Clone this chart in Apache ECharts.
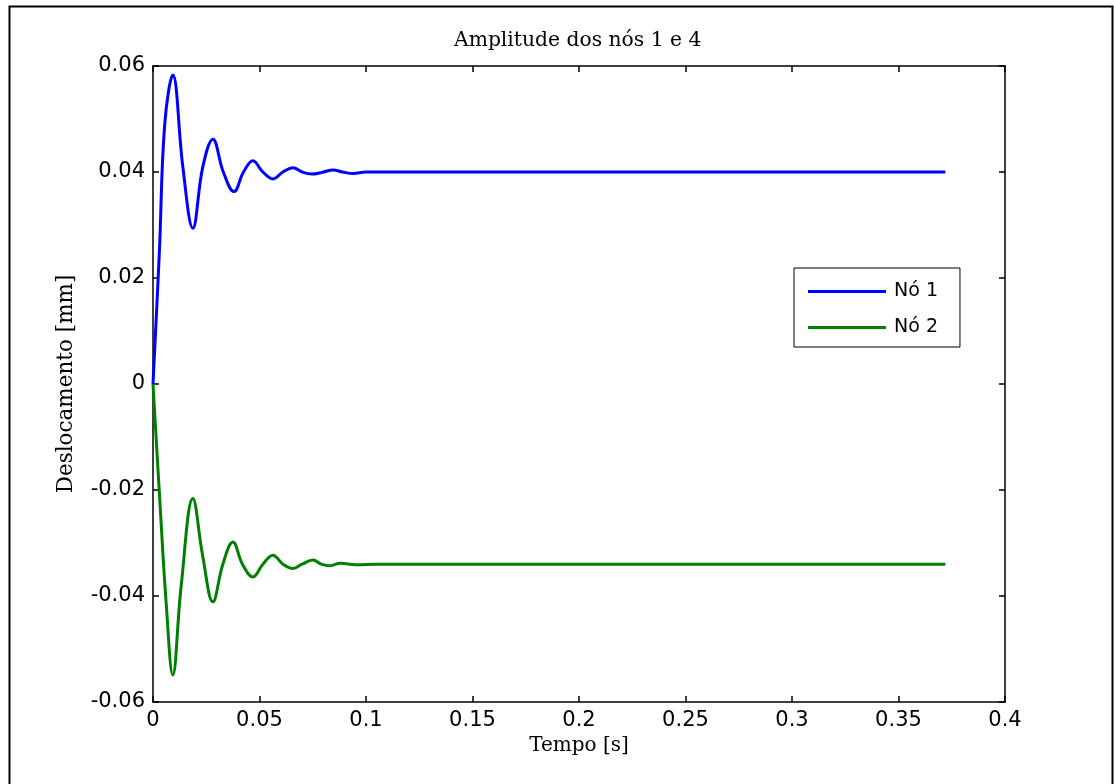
<!DOCTYPE html>
<html>
<head>
<meta charset="utf-8">
<script src="https://cdn.jsdelivr.net/npm/echarts@6/dist/echarts.min.js"></script>
<style>html,body{margin:0;padding:0;background:#fff;}#c{width:1114px;height:784px;}</style>
</head>
<body>
<div id="c"></div>
<script>
// Data
const seriesNames = ['Nó 1', 'Nó 2'];
const timeNo1 = [0, 0.003, 0.0055, 0.0093, 0.014, 0.0187, 0.0234, 0.0281, 0.033, 0.038, 0.0425, 0.0469, 0.0516, 0.0563, 0.061, 0.0657, 0.070, 0.0745, 0.080, 0.0845, 0.089, 0.094, 0.100, 0.372];
const valNo1  = [0, 0.025, 0.049, 0.0583, 0.041, 0.0294, 0.041, 0.0462, 0.040, 0.0363, 0.040, 0.0421, 0.040, 0.0387, 0.040, 0.0408, 0.040, 0.0396, 0.040, 0.0404, 0.040, 0.0397, 0.040, 0.040];
const timeNo2 = [0, 0.003, 0.0062, 0.0093, 0.0132, 0.0187, 0.0234, 0.0281, 0.0328, 0.0375, 0.042, 0.0469, 0.0516, 0.0563, 0.061, 0.0657, 0.070, 0.0751, 0.079, 0.083, 0.088, 0.095, 0.105, 0.372];
const valNo2  = [0, -0.0206, -0.0414, -0.0549, -0.0382, -0.0216, -0.0326, -0.0411, -0.034, -0.0298, -0.034, -0.0364, -0.034, -0.0323, -0.034, -0.0348, -0.034, -0.0332, -0.034, -0.0343, -0.0338, -0.0341, -0.034, -0.034];
const titleText = 'Amplitude dos nós 1 e 4';
const xName = 'Tempo [s]';
const yName = 'Deslocamento [mm]';

const pairs = (t, v) => t.map((x, i) => [x, v[i]]);
const fmt = v => String(+(+v).toFixed(3));

const chart = echarts.init(document.getElementById('c'), null, {renderer: 'canvas'});
const tickFont = {fontFamily: 'DejaVu Sans', fontSize: 21, color: '#000'};
const serifT = {fontFamily: 'DejaVu Serif', fontSize: 20.3, color: '#000', fontWeight: 'normal'};
const serifX = {fontFamily: 'DejaVu Serif', fontSize: 20, color: '#000', fontWeight: 'normal'};
const serifY = {fontFamily: 'DejaVu Serif', fontSize: 21.5, color: '#000', fontWeight: 'normal'};

const baseAxisLine = {show: true, onZero: false, lineStyle: {color: '#000', width: 1.5}};
const baseTick = {show: true, inside: true, length: 6, lineStyle: {color: '#000', width: 1.5}};

chart.setOption({
  animation: false,
  backgroundColor: '#fff',
  title: {text: titleText, left: 449, top: 26, textStyle: serifT},
  grid: {left: 153, right: 109, top: 66, bottom: 82, containLabel: false},
  legend: {
    data: seriesNames,
    orient: 'vertical',
    left: 794, top: 268,
    padding: [14, 22, 10, 14],
    itemWidth: 78, itemHeight: 3,
    itemGap: 17,
    icon: 'rect',
    borderColor: '#000', borderWidth: 1,
    backgroundColor: '#fff',
    textStyle: {fontFamily: 'DejaVu Sans', fontSize: 19, color: '#000', padding: [0, 0, 0, 3]}
  },
  xAxis: [{
    type: 'value', min: 0, max: 0.4, interval: 0.05,
    name: xName, nameLocation: 'middle', nameGap: 33, nameTextStyle: serifX,
    axisLine: baseAxisLine, axisTick: baseTick,
    axisLabel: Object.assign({margin: 8, formatter: fmt}, tickFont),
    splitLine: {show: false}
  }, {
    type: 'value', min: 0, max: 0.4, interval: 0.05, position: 'top',
    axisLine: baseAxisLine, axisTick: baseTick, axisLabel: {show: false}, splitLine: {show: false}
  }],
  yAxis: [{
    type: 'value', min: -0.06, max: 0.06, interval: 0.02,
    name: yName, nameLocation: 'middle', nameGap: 76, nameRotate: 90, nameTextStyle: serifY,
    axisLine: baseAxisLine, axisTick: baseTick,
    axisLabel: Object.assign({margin: 8, formatter: fmt}, tickFont),
    splitLine: {show: false}
  }, {
    type: 'value', min: -0.06, max: 0.06, interval: 0.02, position: 'right',
    axisLine: baseAxisLine, axisTick: baseTick, axisLabel: {show: false}, splitLine: {show: false}
  }],
  series: [{
    name: seriesNames[0], type: 'line', data: pairs(timeNo1, valNo1),
    showSymbol: false, smooth: 0.4, color: '#0000ff',
    lineStyle: {width: 3, color: '#0000ff'}
  }, {
    name: seriesNames[1], type: 'line', data: pairs(timeNo2, valNo2),
    showSymbol: false, smooth: 0.4, color: '#008000',
    lineStyle: {width: 3, color: '#008000'}
  }],
  graphic: [{
    type: 'rect', silent: true,
    shape: {x: 9.5, y: 6.5, width: 1103, height: 800},
    style: {fill: 'none', stroke: '#000', lineWidth: 2}
  }]
});
</script>
</body>
</html>
